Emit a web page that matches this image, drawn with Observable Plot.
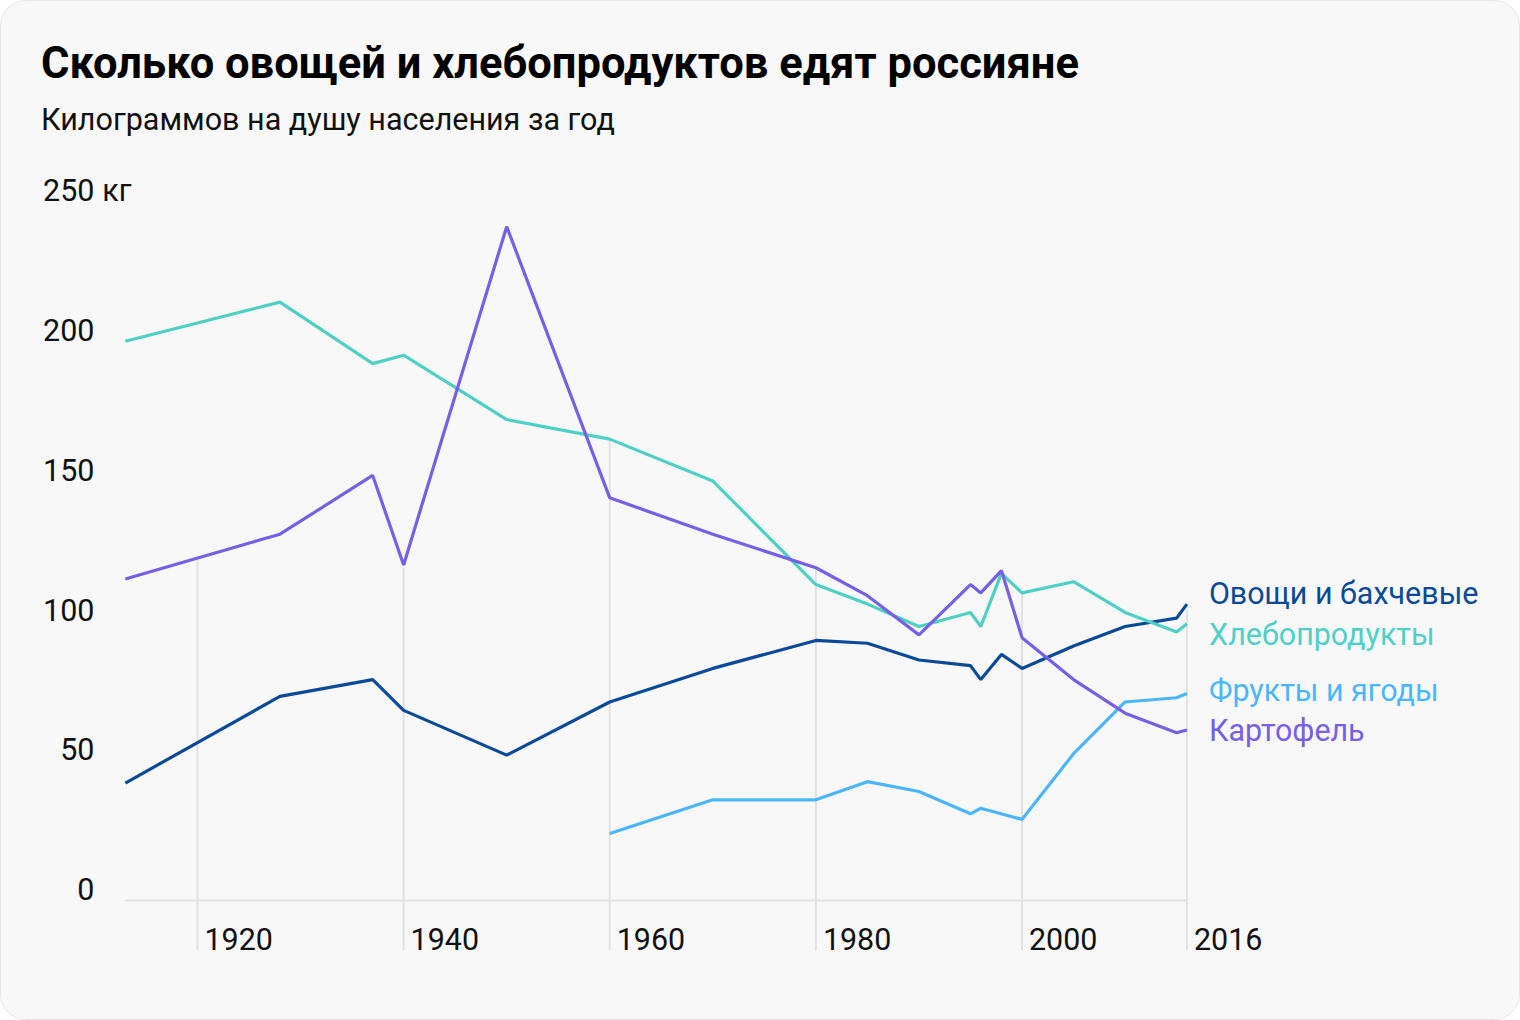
<!DOCTYPE html>
<html><head><meta charset="utf-8">
<script src="https://cdn.jsdelivr.net/npm/d3@7"></script>
<script src="https://cdn.jsdelivr.net/npm/@observablehq/plot@0.6"></script>
<style>
html,body{margin:0;padding:0;background:#ffffff;}
#card{position:relative;width:1518px;height:1018px;background:#f8f8f8;border:1px solid #e6e6e6;border-radius:26px;overflow:hidden;font-family:Roboto, sans-serif;}
#title{position:absolute;left:40px;top:37px;font-size:43.5px;font-weight:700;color:#000;line-height:52px;white-space:nowrap;}
#subtitle{position:absolute;left:40px;top:101px;font-size:30.5px;color:#111;line-height:36px;white-space:nowrap;}
#chart{position:absolute;left:0;top:150px;}
</style></head>
<body>
<div id="card">
  <div id="title">Сколько овощей и хлебопродуктов едят россияне</div>
  <div id="subtitle">Килограммов на душу населения за год</div>
  <div id="chart"></div>
</div>
<script>
const years      = [1913,1928,1937,1940,1950,1960,1970,1980,1985,1990,1995,1996,1998,2000,2005,2010,2015,2016];
const vegetables = [42, 73, 79, 68, 52, 71, 83, 93, 92, 86, 84, 79, 88, 83, 91, 98, 101, 106];
const bread      = [200,214,192,195,172,165,150,113,106,98, 103,98, 117,110,114,103,96, 99];
const fruits     = [null,null,null,null,null,24,36,36,42.5,39,31,33,null,29,52.5,71,72.5,74];
const potatoes   = [115,131,152,120,241,144,131,119,109,95, 113,110,118,94, 79, 67, 60, 61];

const seriesNames  = ["Фрукты и ягоды", "Овощи и бахчевые", "Хлебопродукты", "Картофель"];
const seriesValues = [fruits, vegetables, bread, potatoes];
const seriesColors = ["#4cb6fb", "#0a4a98", "#4fd0c5", "#7860e4"];
const labelDy      = [-2, -10, 12, 1];

const yTicks   = [0, 50, 100, 150, 200, 250];
const xTicks   = [1920, 1940, 1960, 1980, 2000, 2016];
const xTickLabels = ["1920", "1940", "1960", "1980", "2000", "2016"];
const gridTop  = [122, 119, 165, 119, 110, 104];
const unit = "кг";

const rows = [];
seriesNames.forEach((name, si) => {
  seriesValues[si].forEach((v, i) => {
    if (v != null) rows.push({series: name, year: years[i], value: v});
  });
});
const lastRows = seriesNames.map((name, si) => {
  const r = rows.filter(d => d.series === name);
  return {...r[r.length - 1], dy: labelDy[si], color: seriesColors[si]};
});

const chart = Plot.plot({
  width: 1520,
  height: 850,
  marginLeft: 124,
  marginRight: 333,
  marginTop: 50,
  marginBottom: 100,
  style: {fontFamily: "Roboto, sans-serif", fontSize: "30.5px", background: "transparent", color: "#111"},
  x: {domain: [1913, 2016], axis: null},
  y: {domain: [0, 250], axis: null},
  color: {domain: seriesNames, range: seriesColors},
  marks: [
    Plot.ruleX(xTicks, {x: d => d, y1: (d, i) => gridTop[i], y2: -18, stroke: "#e2e2e2", strokeWidth: 2}),
    Plot.ruleY([0], {stroke: "#e2e2e2", strokeWidth: 2}),
    Plot.text(yTicks, {y: d => d, text: d => String(d), frameAnchor: "left", dx: -31, dy: -10, textAnchor: "end", lineAnchor: "middle", fill: "#111"}),
    Plot.text([250], {y: d => d, text: () => unit, frameAnchor: "left", dx: -23, dy: -10, textAnchor: "start", lineAnchor: "middle", fill: "#111"}),
    Plot.text(xTicks, {x: d => d, text: (d, i) => xTickLabels[i], frameAnchor: "bottom", dy: 40, dx: 7, textAnchor: "start", lineAnchor: "middle", fill: "#111"}),
    Plot.line(rows, {x: "year", y: "value", z: "series", stroke: "series", strokeWidth: 3.2, strokeLinejoin: "miter", strokeLinecap: "butt"}),
    ...lastRows.map(d => Plot.text([d], {x: "year", y: "value", text: "series", dx: 22, dy: d.dy, textAnchor: "start", lineAnchor: "middle", fill: d.color}))
  ]
});
document.getElementById("chart").appendChild(chart);
</script>
</body></html>
